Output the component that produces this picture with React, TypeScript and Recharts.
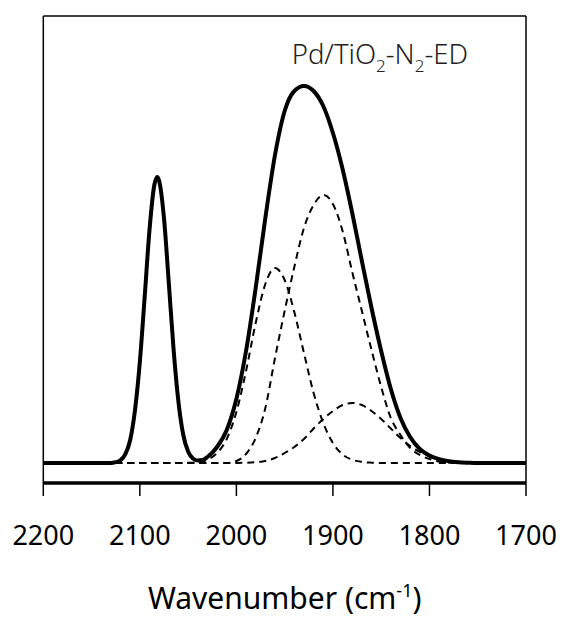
import { Line, LineChart, ReferenceLine, XAxis, YAxis } from "recharts";

// wavenumber (cm-1) and absorbance-ish heights
const TOTAL_W = [
  2200, 2130, 2125, 2120, 2115, 2110, 2105, 2100, 2095, 2090, 2085, 2082, 2080, 2075, 2070,
  2065, 2060, 2055, 2050, 2045, 2040, 2035, 2030, 2020, 2010, 2000, 1990, 1980, 1970, 1960,
  1950, 1940, 1930, 1920, 1910, 1900, 1890, 1880, 1870, 1860, 1850, 1840, 1830, 1820, 1810,
  1800, 1790, 1780, 1770, 1760, 1750, 1700,
];
const TOTAL_V = [
  0, 0, 0.8, 2.8, 8.8, 23, 53, 101, 166, 233, 278, 286, 282, 245, 180,
  113, 61, 28, 11.5, 4.5, 2.5, 3, 6, 16, 33, 64, 112, 175, 245, 308,
  352, 372, 377, 372, 357, 330, 294, 250, 202, 155, 112, 74, 45, 26, 14,
  7.5, 3.8, 1.8, 0.8, 0.3, 0, 0,
];

const PEAK1_W = [
  2200, 2060, 2050, 2040, 2030, 2020, 2010, 2000, 1990, 1980, 1970, 1960, 1950, 1940, 1930,
  1920, 1910, 1900, 1890, 1880, 1870, 1860, 1850, 1700,
];
const PEAK1_V = [
  0, 0, 0.2, 0.9, 3.3, 10, 24, 51, 92, 140, 179, 195, 183, 151, 110,
  70, 40, 20, 8.6, 3.3, 1.1, 0.3, 0, 0,
];

const PEAK2_W = [
  2200, 2010, 2000, 1990, 1980, 1970, 1960, 1950, 1940, 1930, 1920, 1910, 1900, 1890, 1880,
  1870, 1860, 1850, 1840, 1830, 1820, 1810, 1800, 1790, 1780, 1770, 1700,
];
const PEAK2_V = [
  0, 0, 2, 9, 25, 55, 105, 152, 196, 235, 258, 268, 259, 232, 191,
  152, 113, 76, 45, 28, 15, 8, 4, 1.5, 0.5, 0, 0,
];

const PEAK3_W = [
  2200, 2010, 2000, 1990, 1980, 1970, 1960, 1950, 1940, 1930, 1920, 1910, 1900, 1890, 1880,
  1870, 1860, 1850, 1840, 1830, 1820, 1810, 1800, 1790, 1780, 1770, 1760, 1750, 1700,
];
const PEAK3_V = [
  0, 0, 0.1, 0.3, 0.8, 2, 5, 10, 16, 24, 34.5, 44, 52, 58, 60,
  58, 52, 44, 34.5, 25, 17, 11, 6.5, 3.6, 1.9, 0.9, 0.4, 0.2, 0,
];

const X_TICKS = [2200, 2100, 2000, 1900, 1800, 1700];

const W = 558;
const H = 609;
const FONT = "'Noto Sans', 'Open Sans', sans-serif";

const toRows = (ws: number[], vs: number[]) => ws.map((w, i) => ({ w, v: vs[i] }));

const total = toRows(TOTAL_W, TOTAL_V);
const peaks = [toRows(PEAK1_W, PEAK1_V), toRows(PEAK2_W, PEAK2_V), toRows(PEAK3_W, PEAK3_V)];

function Tick({ x, y, payload }: any) {
  return (
    <text x={x} y={y} dy={47} textAnchor="middle" fontSize={27} fontFamily={FONT} fill="#000">
      {payload.value}
    </text>
  );
}

export default function App() {
  return (
    <div style={{ position: "relative", width: W, height: H }}>
      <LineChart width={W} height={H} margin={{ top: 8, right: 40, bottom: 44, left: 35.3 }}>
        <XAxis
          type="number"
          dataKey="w"
          domain={[1700, 2200]}
          reversed
          ticks={X_TICKS}
          interval={0}
          allowDataOverflow
          height={90}
          tickSize={13}
          tickLine={{ stroke: "#000", strokeWidth: 1.5 }}
          axisLine={{ stroke: "#000", strokeWidth: 3.5 }}
          tick={<Tick />}
        />
        <YAxis hide type="number" domain={[-20, 447]} allowDataOverflow />
        <ReferenceLine x={2200} stroke="#000" strokeWidth={1.5} />
        <ReferenceLine x={1700} stroke="#000" strokeWidth={1.5} />
        <ReferenceLine y={447} stroke="#000" strokeWidth={1.5} />
        {peaks.map((rows, i) => (
          <Line
            key={i}
            data={rows}
            dataKey="v"
            type="monotone"
            stroke="#000"
            strokeWidth={2}
            strokeDasharray="7 5"
            dot={false}
            activeDot={false}
            isAnimationActive={false}
          />
        ))}
        <Line
          data={total}
          dataKey="v"
          type="monotone"
          stroke="#000"
          strokeWidth={4}
          dot={false}
          activeDot={false}
          isAnimationActive={false}
        />
      </LineChart>
      <svg
        width={W}
        height={H}
        style={{ position: "absolute", left: 0, top: 0, pointerEvents: "none" }}
      >
        <text x={283.7} y={56} fontSize={27.5} fontWeight={300} fontFamily={FONT} fill="#222">
          Pd/TiO
          <tspan dy={8} fontSize={17}>2</tspan>
          <tspan dy={-8}>-N</tspan>
          <tspan dy={8} fontSize={17}>2</tspan>
          <tspan dy={-8}>-ED</tspan>
        </text>
        <text x={276.7} y={601} textAnchor="middle" fontSize={30} fontFamily={FONT} fill="#000">
          Wavenumber (cm
          <tspan dy={-12} fontSize={18}>-1</tspan>
          <tspan dy={12}>)</tspan>
        </text>
      </svg>
    </div>
  );
}
